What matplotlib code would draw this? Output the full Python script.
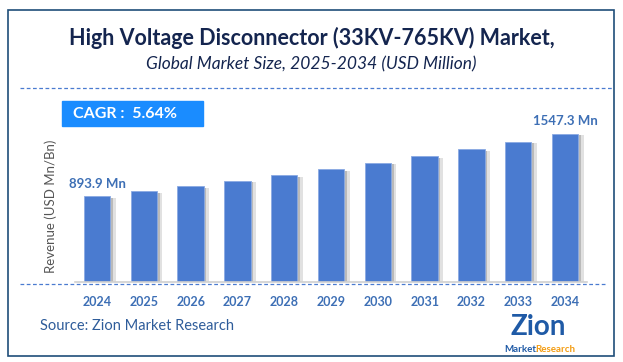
import numpy as np
import matplotlib.pyplot as plt
import matplotlib.patheffects as pe
from matplotlib.patches import Rectangle
from matplotlib.lines import Line2D

years = ['2024', '2025', '2026', '2027', '2028', '2029', '2030', '2031', '2032', '2033', '2034']
revenue = [893.9, 944.3, 997.5, 1053.7, 1113.1, 1175.9, 1242.2, 1312.3, 1386.3, 1464.4, 1547.3]
first_label = '893.9 Mn'
last_label = '1547.3 Mn'
cagr_text = 'CAGR :  5.64%'

W, H = 623, 362
plt.rcParams['font.family'] = ['Lato', 'DejaVu Sans']

fig = plt.figure(figsize=(W / 100, H / 100), dpi=100)
fig.patch.set_facecolor('white')

def fx(px):
    return px / W

def fy(py):
    return 1 - py / H

# outer frame
fig.patches.append(Rectangle((fx(8), fy(356)), fx(606), (356 - 10) / H,
                             transform=fig.transFigure, fill=False,
                             edgecolor='#1f4e79', linewidth=1.2))

fig.text(0.5, fy(38), 'High Voltage Disconnector (33KV-765KV) Market,',
         ha='center', va='center', fontsize=15.5, fontweight='bold', color='#14254f')
fig.text(0.5, fy(64), 'Global Market Size, 2025-2034 (USD Million)',
         ha='center', va='center', fontsize=12.5, style='italic', color='#14254f')

# dashed separators
fig.lines.append(Line2D([fx(20), fx(612)], [fy(88), fy(88)], transform=fig.transFigure,
                        color='#4a7bd0', linestyle=(0, (3, 2)), linewidth=0.9))
fig.lines.append(Line2D([fx(20), fx(606)], [fy(284), fy(284)], transform=fig.transFigure,
                        color='#4a7bd0', linestyle=(0, (3, 2)), linewidth=0.9))

# CAGR box
fig.patches.append(Rectangle((fx(62), fy(126)), fx(141), 25 / H,
                             transform=fig.transFigure, color='#1a8cff'))
fig.text(fx(73), fy(114), cagr_text, ha='left', va='center', fontsize=11.5,
         fontweight='bold', color='white')

ax = fig.add_axes([fx(75), fy(281.7), fx(512), 172 / H])
x = np.arange(len(years))
bars = ax.bar(x, revenue, width=0.56, color='#4a7bd0', edgecolor='#8aaae3', linewidth=0.6)
for b in bars:
    b.set_path_effects([pe.SimplePatchShadow(offset=(4, -1), shadow_rgbFace='#bdbdbd', alpha=0.45),
                        pe.SimplePatchShadow(offset=(2, -1), shadow_rgbFace='#8c8c8c', alpha=0.45),
                        pe.Normal()])
ax.set_xlim(-0.47, len(years) - 1 + 0.47)
ax.set_ylim(0, 1800)
for s in ['top', 'right', 'left']:
    ax.spines[s].set_visible(False)
ax.spines['bottom'].set_color('#d0d0d0')
ax.spines['bottom'].set_linewidth(1.2)
ax.set_yticks([])
ax.set_xticks(x)
ax.set_xticklabels(years, fontsize=9, fontweight='bold', color='#3d6fb5')
ax.tick_params(axis='x', length=0, pad=10)
ax.set_ylabel('Revenue (USD Mn/Bn)', fontsize=9.5, color='#555555')
ax.yaxis.set_label_coords(-0.036, 0.44)

ax.text(x[0], revenue[0] + 70, first_label, ha='center', va='bottom', fontsize=9.5,
        fontweight='bold', color='#3d6fb5')
ax.text(x[-1], revenue[-1] + 70, last_label, ha='center', va='bottom', fontsize=9.5,
        fontweight='bold', color='#3d6fb5')

fig.text(fx(40), fy(326), 'Source: Zion Market Research', ha='left', va='center',
         fontsize=10.5, color='#2e5c9a')

# logo text
fig.text(fx(538), fy(327), 'Zion', ha='center', va='center', fontsize=20,
         fontweight='bold', color='#1f5aa6')
fig.text(fx(521), fy(349), 'Market.', ha='center', va='center', fontsize=7,
         fontweight='bold', color='#1f5aa6')
fig.text(fx(555), fy(349), 'Research', ha='center', va='center', fontsize=7,
         fontweight='bold', color='#f39c12')

fig.savefig('out.png', dpi=100, facecolor='white')
